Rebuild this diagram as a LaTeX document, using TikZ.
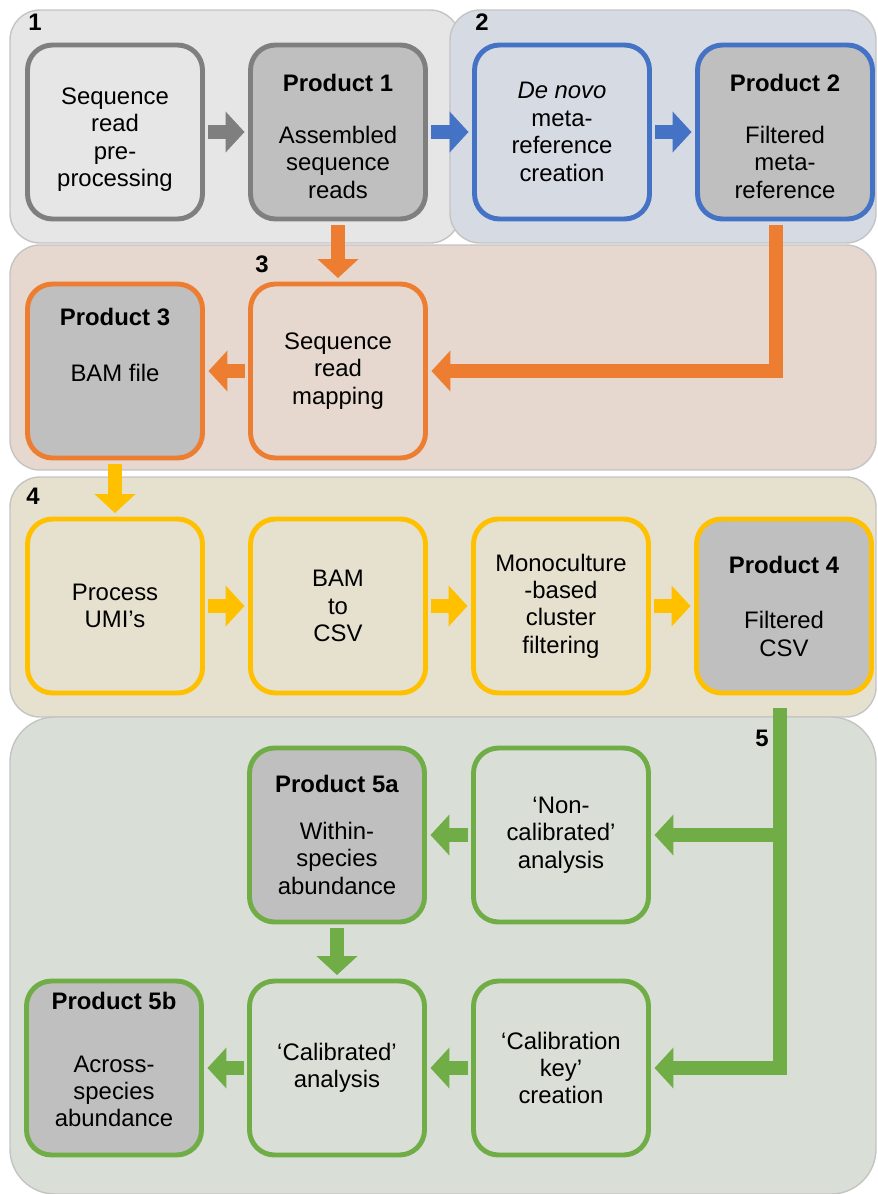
\documentclass[tikz,border=0pt]{standalone}
\usepackage{fontspec}
\setmainfont{Liberation Sans}
\usetikzlibrary{arrows.meta}

\definecolor{GreyLine}{HTML}{7F7F7F}
\definecolor{BlueLine}{HTML}{4472C4}
\definecolor{OrangeLine}{HTML}{ED7D31}
\definecolor{YellowLine}{HTML}{FFC000}
\definecolor{GreenLine}{HTML}{70AD47}
\definecolor{ProductFill}{HTML}{BFBFBF}
\definecolor{PanelOne}{HTML}{E6E6E6}
\definecolor{PanelTwo}{HTML}{D6DAE3}
\definecolor{PanelThree}{HTML}{E6D8CE}
\definecolor{PanelFour}{HTML}{E6E0CF}
\definecolor{PanelFive}{HTML}{D9DFD6}
\definecolor{PanelEdge}{HTML}{C4C4C4}

\begin{document}
\begin{tikzpicture}[x=0.02cm, y=-0.02cm,
    Panel/.style = {draw=PanelEdge, line width=0.8pt, rounded corners=0.6cm},
    Task/.style = {draw, line width=2.8pt, rounded corners=0.5cm,
                   minimum width=3.5cm, minimum height=3.48cm, align=center,
                   font=\fontsize{13.6}{15.6}\selectfont},
    Product/.style = {Task, fill=ProductFill},
    Tag/.style = {font=\fontsize{13.6}{15.6}\selectfont\bfseries},
    Flow/.style = {line width=0.28cm, -{Triangle[width=0.8cm,length=0.38cm]},
                   shorten <=2pt, shorten >=2pt}]
    \useasboundingbox (0,0) rectangle (878,1194);

    % Panels
    \draw[Panel, fill=PanelOne] (10,10) rectangle (460,243);
    \draw[Panel, fill=PanelTwo] (450,10) rectangle (876,243);
    \draw[Panel, fill=PanelThree] (10,245) rectangle (876,470);
    \draw[Panel, fill=PanelFour] (10,477) rectangle (876,717);
    \draw[Panel, fill=PanelFive, rounded corners=0.9cm] (10,717) rectangle (876,1194);

    \node[Tag] (t1) at (35,22) {1};
    \node[Tag] (t2) at (482,22) {2};
    \node[Tag] (t3) at (262,264) {3};
    \node[Tag] (t4) at (33,496) {4};
    \node[Tag] (t5) at (762,738) {5};

    % Boxes
    \node[Task, draw=GreyLine] (pre) at (115,132) {\mbox{}\\[2.4pt]Sequence\\read\\pre-\\processing};
    \node[Product, draw=GreyLine] (p1) at (338,132)
        {\mbox{}\\[-1pt]\textbf{Product 1}\\[14pt]Assembled\\sequence\\reads};
    \node[Task, draw=BlueLine] (novo) at (562,132) {\textit{De novo}\\meta-\\reference\\creation};
    \node[Product, draw=BlueLine] (p2) at (785,132)
        {\mbox{}\\[-1pt]\textbf{Product 2}\\[14pt]Filtered\\meta-\\reference};

    \node[Product, draw=OrangeLine] (p3) at (115,371)
        {\textbf{Product 3}\\[16pt]BAM file\\[14pt]\mbox{}};
    \node[Task, draw=OrangeLine] (map) at (338,371) {Sequence\\read\\mapping};

    \node[Task, draw=YellowLine] (umi) at (115,606) {Process\\UMI’s};
    \node[Task, draw=YellowLine] (bam) at (338,606) {BAM\\to\\CSV};
    \node[Task, draw=YellowLine] (mono) at (561,606) {Monoculture\\-based\\cluster\\filtering};
    \node[Product, draw=YellowLine] (p4) at (784,606)
        {\textbf{Product 4}\\[16pt]Filtered\\CSV};

    \node[Product, draw=GreenLine] (p5a) at (337,835)
        {\textbf{Product 5a}\\[11pt]Within-\\species\\abundance};
    \node[Task, draw=GreenLine] (ncal) at (561,835) {‘Non-\\calibrated’\\analysis};
    \node[Product, draw=GreenLine] (p5b) at (114,1068)
        {\textbf{Product 5b}\\[20pt]Across-\\species\\abundance\\[-6pt]\mbox{}};
    \node[Task, draw=GreenLine] (cal) at (337,1068) {‘Calibrated’\\analysis};
    \node[Task, draw=GreenLine] (ckey) at (561,1068) {‘Calibration\\key’\\creation};

    % Arrows
    \coordinate (bend) at (776,370);
    \coordinate (split) at (780,1077);

    % 1 | 2
    \draw[Flow, GreyLine] (pre) -- (p1);
    \draw[Flow, BlueLine] (p1) -- (novo);
    \draw[Flow, BlueLine] (novo) -- (p2);

    % 3
    \draw[Flow, OrangeLine] (p1) -- (map);
    \draw[Flow, OrangeLine] (p2.south -| bend) |- (map.east);
    \draw[Flow, OrangeLine] (map) -- (p3);

    % 4
    \draw[Flow, YellowLine] (p3) -- (umi);
    \draw[Flow, YellowLine] (umi) -- (bam);
    \draw[Flow, YellowLine] (bam) -- (mono);
    \draw[Flow, YellowLine] (mono) -- (p4);

    % 5
    \draw[Flow, GreenLine, shorten <=0.26cm] (p4.south -| split) |- (ckey.east);
    \draw[Flow, GreenLine, shorten <=0pt] (split |- ncal.east) -- (ncal.east);
    \draw[Flow, GreenLine] (ncal) -- (p5a);
    \draw[Flow, GreenLine] (p5a) -- (cal);
    \draw[Flow, GreenLine] (ckey) -- (cal);
    \draw[Flow, GreenLine] (cal) -- (p5b);

  \end{tikzpicture}
\end{document}
